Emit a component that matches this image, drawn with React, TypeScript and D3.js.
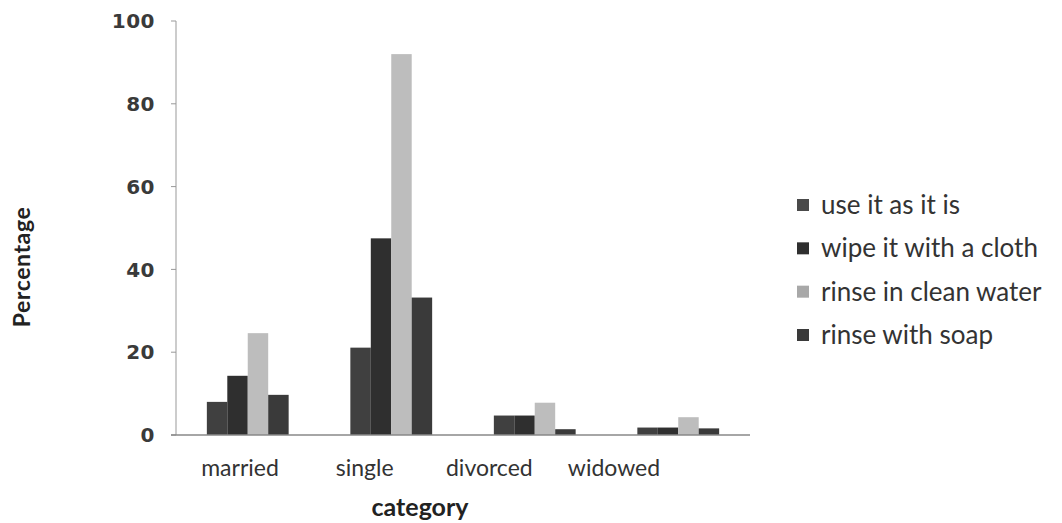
import React from "react";
import * as d3 from "d3";

const categories = ["married", "single", "divorced", "widowed"];
const seriesNames = ["use it as it is", "wipe it with a cloth", "rinse in clean water", "rinse with soap"];
const useAsIs = [8.0, 21.1, 4.7, 1.8];
const wipeCloth = [14.3, 47.5, 4.7, 1.8];
const rinseWater = [24.6, 92.0, 7.8, 4.3];
const rinseSoap = [9.7, 33.2, 1.4, 1.6];
const yTicks = [0, 20, 40, 60, 80, 100];

const seriesValues = [useAsIs, wipeCloth, rinseWater, rinseSoap];
const colors = ["#404040", "#2f2f2f", "#bdbdbd", "#3a3a3a"];
const legendColors = ["#4a4a4a", "#2f2f2f", "#a8a8a8", "#3a3a3a"];

export default function App() {
  const W = 1062, H = 523;
  const left = 176, right = 750, top = 21, bottom = 435;
  const x0 = d3.scaleBand<string>().domain(categories).range([left, right]).paddingInner(0.43).paddingOuter(0.215);
  const x1 = d3.scaleBand<number>().domain(d3.range(seriesNames.length)).range([0, x0.bandwidth()]).padding(0);
  const y = d3.scaleLinear().domain([0, 100]).range([bottom, top]);
  const xLabel = d3.scalePoint<string>().domain(categories).range([240, 614]);
  const legendY = d3.scalePoint<string>().domain(seriesNames).range([205, 335]);
  const font = "Lato, 'Open Sans', sans-serif";
  const textColor = "#333";

  return (
    <svg width={W} height={H} style={{ position: "absolute", left: 0, top: 0, background: "#fff" }} fontFamily={font}>
      <rect width={W} height={H} fill="#fff" />
      {categories.map((c, ci) => (
        <g key={c} transform={`translate(${x0(c)},0)`}>
          {seriesValues.map((vals, si) => (
            <rect
              key={si}
              x={x1(si)!}
              y={y(vals[ci])}
              width={x1.bandwidth()}
              height={y(0) - y(vals[ci])}
              fill={colors[si]}
            />
          ))}
        </g>
      ))}
      <line x1={left} x2={left} y1={y(100)} y2={y(0)} stroke="#999" strokeWidth={1} />
      {yTicks.map((t) => (
        <g key={t}>
          <line x1={left - 5} x2={left} y1={y(t)} y2={y(t)} stroke="#999" />
          <text
            x={155}
            y={y(t)}
            dy="0.36em"
            textAnchor="end"
            fontSize={20}
            fontWeight="bold"
            letterSpacing={0.5}
            fontFamily="'DejaVu Sans', sans-serif"
            fill="#3a3a3a"
          >
            {t}
          </text>
        </g>
      ))}
      <line x1={left - 5} x2={right} y1={bottom} y2={bottom} stroke="#888" strokeWidth={1.5} />
      {categories.map((c) => (
        <text key={c} x={xLabel(c)} y={476} textAnchor="middle" fontSize={23} fill={textColor}>
          {c}
        </text>
      ))}
      <text x={420} y={516} textAnchor="middle" fontSize={25} fontWeight="bold" fill="#222">
        category
      </text>
      <text
        transform={`translate(30,267) rotate(-90)`}
        textAnchor="middle"
        fontSize={23}
        fontWeight="bold"
        letterSpacing={0.6}
        fill="#222"
      >
        Percentage
      </text>
      {seriesNames.map((n, i) => (
        <g key={n} transform={`translate(797,${legendY(n)})`}>
          <rect x={0} y={-6} width={12} height={12} fill={legendColors[i]} />
          <text x={24} y={0} dy="0.35em" fontSize={26} fill={textColor}>
            {n}
          </text>
        </g>
      ))}
    </svg>
  );
}
